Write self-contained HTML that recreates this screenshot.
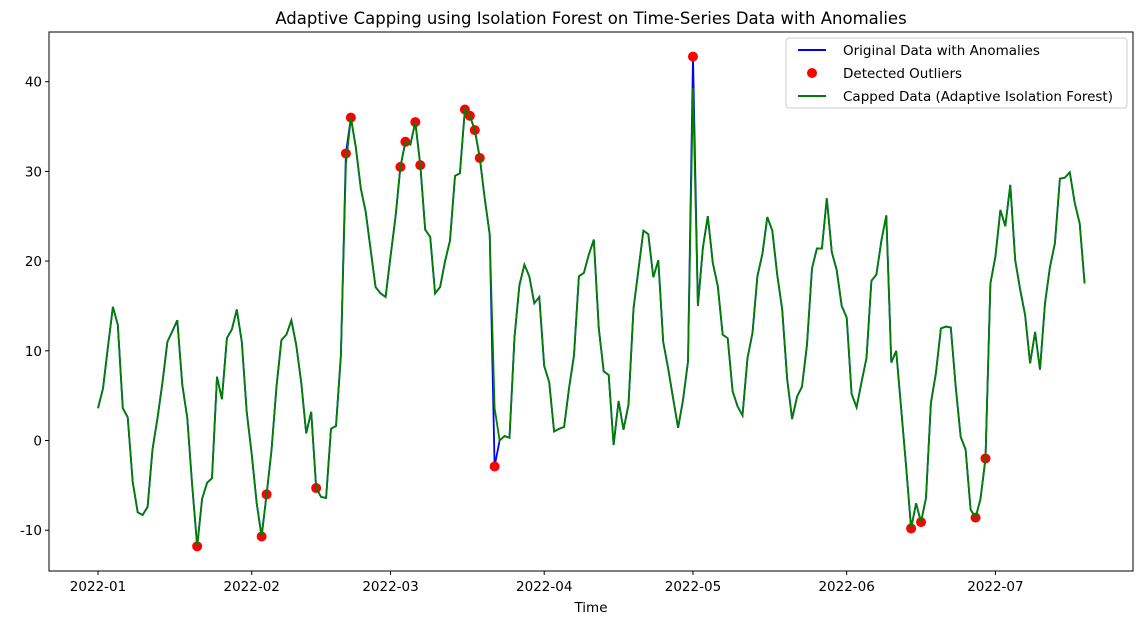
<!DOCTYPE html>
<html><head><meta charset="utf-8"><style>
html,body{margin:0;padding:0;background:#fff;}
svg{display:block;font-family:"DejaVu Sans","Liberation Sans",sans-serif;}
</style></head>
<body>
<svg id="chart" width="1143" height="624" viewBox="0 0 1143 624" xmlns="http://www.w3.org/2000/svg">
<rect x="0" y="0" width="1143" height="624" fill="#fff"/>
<text x="591" y="24" font-size="16.5" text-anchor="middle">Adaptive Capping using Isolation Forest on Time-Series Data with Anomalies</text>
<g id="plot"></g>
<text x="591" y="612" font-size="13.5" text-anchor="middle">Time</text>
<g>
<rect x="786" y="38" width="341" height="70" rx="3" fill="#fff" fill-opacity="0.8" stroke="#ccc"/>
<line x1="798" y1="50" x2="826" y2="50" stroke="blue" stroke-width="2"/>
<text x="843" y="55" font-size="13.5">Original Data with Anomalies</text>
<circle cx="812" cy="73" r="5" fill="red"/>
<text x="843" y="78" font-size="13.5">Detected Outliers</text>
<line x1="798" y1="96" x2="826" y2="96" stroke="green" stroke-width="2"/>
<text x="843" y="101" font-size="13.5">Capped Data (Adaptive Isolation Forest)</text>
</g>
</svg>
<script>
const startDate = "2022-01-01";
const original = [3.6,5.8,10.4,14.9,12.9,3.6,2.6,-4.6,-8,-8.3,-7.4,-1,2.5,6.5,11,12.2,13.4,6.2,2.6,-5,-11.8,-6.5,-4.7,-4.2,7.1,4.6,11.4,12.4,14.6,11,3.2,-1.5,-7,-10.7,-6,-1.1,6,11.2,11.8,13.4,10.6,6.4,0.8,3.2,-5.3,-6.3,-6.4,1.3,1.6,9.5,32,36,32.7,28.1,25.5,21.2,17.1,16.4,16,20.5,24.9,30.5,33.3,33,35.5,30.7,23.5,22.7,16.4,17.1,20,22.3,29.5,29.8,36.9,36.2,34.6,31.5,27,23,-2.9,0,0.5,0.3,11.5,17.3,19.6,18.3,15.3,16,8.3,6.5,1,1.3,1.5,5.8,9.5,18.3,18.7,20.7,22.4,12.5,7.7,7.3,-0.5,4.4,1.2,4,14.7,19,23.4,23,18.2,20.1,11,8,4.7,1.4,4.5,8.8,42.8,15,21.5,25,19.8,17.2,11.8,11.4,5.5,3.8,2.8,9.2,12,18.3,20.8,24.9,23.4,18.5,14.6,6.8,2.4,4.9,6,10.7,19.2,21.4,21.4,27,21,19,15,13.7,5.2,3.7,6.5,9.2,17.8,18.5,22.3,25.1,8.7,10,3.5,-3,-9.8,-7,-9.1,-6.4,4.2,7.5,12.5,12.7,12.6,6,0.4,-1,-7.7,-8.6,-6.5,-2,17.5,20.5,25.7,23.9,28.5,20.1,16.8,14,8.6,12.1,7.9,15.3,19.3,22,29.2,29.3,29.9,26.5,24.2,17.5];
const outlierDays = [20,33,34,44,50,51,61,62,64,65,74,75,76,77,80,120,164,166,177,179];
const cappedDays = [50,80,120];
const cappedValues = [30.8,3.6,39.3];
const yTicks = [-10,0,10,20,30,40];
const xTickLabels = ["2022-01","2022-02","2022-03","2022-04","2022-05","2022-06","2022-07"];

const NS="http://www.w3.org/2000/svg";
const L=49,R=1133,T=32,B=571;
const t0=Date.parse(startDate+"T00:00:00Z");
const dayPx=4.958, x0=98;
function xDay(d){return x0+dayPx*d;}
function xDate(s){return xDay((Date.parse(s+"-01T00:00:00Z")-t0)/86400000);}
function yV(v){return 440.5-8.97*v;}
const g=document.getElementById('plot');
function mk(tag,attrs){const e=document.createElementNS(NS,tag);for(const k in attrs)e.setAttribute(k,attrs[k]);g.appendChild(e);return e;}

const capped=original.slice();
cappedDays.forEach((d,i)=>{capped[d]=cappedValues[i];});

const p1=mk('polyline',{points:original.map((v,i)=>xDay(i).toFixed(1)+','+yV(v).toFixed(1)).join(' '),fill:'none',stroke:'blue','stroke-width':1.8});


outlierDays.forEach(d=>{
  const c=mk('circle',{cx:xDay(d),cy:yV(original[d]),r:5,fill:'red'});
  
  
});
const p2=mk('polyline',{points:capped.map((v,i)=>xDay(i).toFixed(1)+','+yV(v).toFixed(1)).join(' '),fill:'none',stroke:'green','stroke-width':1.8});



const fr=mk('rect',{x:L,y:T,width:R-L,height:B-T,fill:'none',stroke:'#000','stroke-width':1});



yTicks.forEach(v=>{
  const y=yV(v);
  const tk=mk('line',{x1:L-4,x2:L,y1:y,y2:y,stroke:'#000'});
  
  
  const tx=mk('text',{x:L-7,y:y+5,'font-size':13.5,'text-anchor':'end'});
  tx.textContent=v;
  
  
});
xTickLabels.forEach(s=>{
  const x=xDate(s);
  const tk=mk('line',{x1:x,x2:x,y1:B,y2:B+4,stroke:'#000'});
  
  
  const tx=mk('text',{x:x,y:B+20,'font-size':13.5,'text-anchor':'middle'});
  tx.textContent=s;
  
  
});
</script>
</body></html>
